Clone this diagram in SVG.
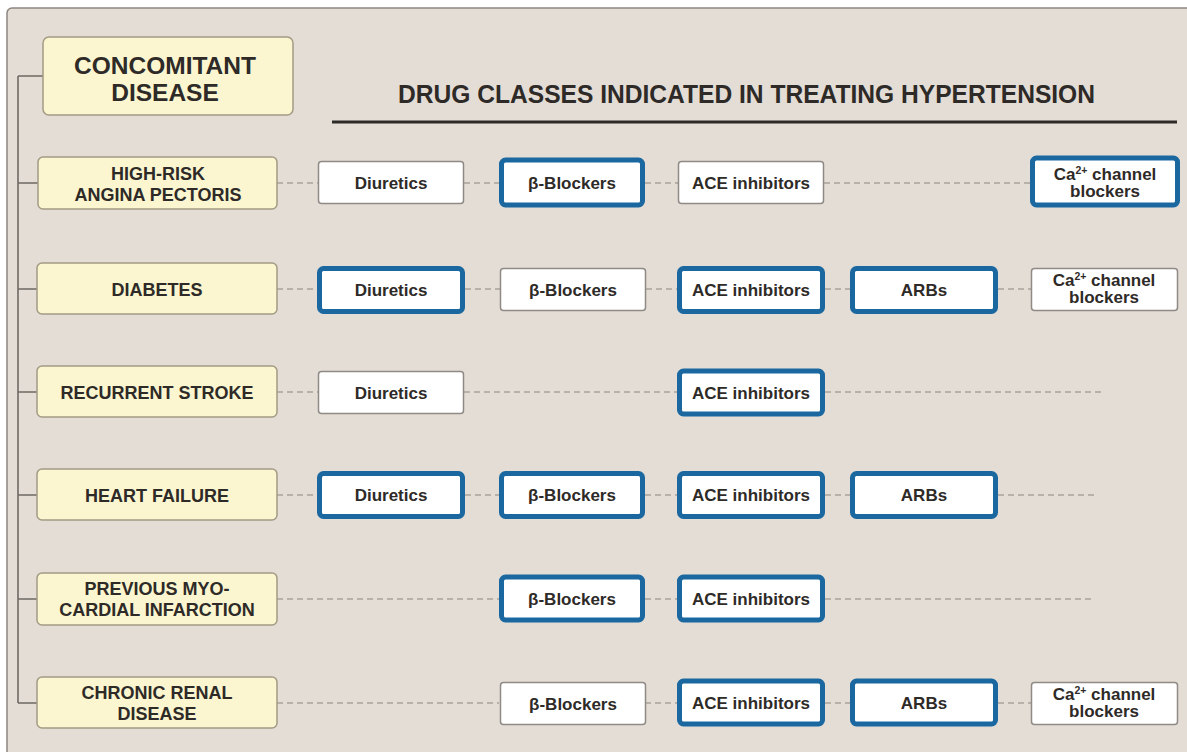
<svg xmlns="http://www.w3.org/2000/svg" width="1187" height="752" viewBox="0 0 1187 752">
<style>
.bg{fill:#e3ddd6;stroke:#8d8782;stroke-width:1.5}
.dis rect{fill:#fbf6d0;stroke:#a39b84;stroke-width:1.5}
.dt{font-family:"Liberation Sans",Arial,sans-serif;font-weight:bold;font-size:18px;fill:#2e2a27;text-anchor:middle}
.ht{font-family:"Liberation Sans",Arial,sans-serif;font-weight:bold;font-size:24.5px;fill:#2e2a27;text-anchor:middle}
.title{font-family:"Liberation Sans",Arial,sans-serif;font-weight:bold;font-size:25px;fill:#2e2a27}
.plain rect{fill:#ffffff;stroke:#8f8a85;stroke-width:1.5}
.hl rect{fill:#ffffff;stroke:#1b68a0;stroke-width:5}
.drug text{font-family:"Liberation Sans",Arial,sans-serif;font-weight:bold;font-size:17px;fill:#2e2a27;text-anchor:middle}
.tree{stroke:#6e6863;stroke-width:1.6;fill:none}
.dash{stroke:#a8a29b;stroke-width:1.4;stroke-dasharray:6 4;fill:none}
</style>
<rect width="1187" height="752" fill="#ffffff"/>
<rect class="bg" x="7" y="8" width="1200" height="760" rx="5"/>

<g id="connectors">
<path class="tree" d="M18 76V703M18 76H43M18 183H38M18 289H37M18 392H37M18 495H37M18 599H37M18 703H37"/>
<path class="dash" d="M277 183H318M464 183H499M645 183H678M824 183H1030"/>
<path class="dash" d="M277 289H317M465 289H500M646 289H677M825 289H850M998 289H1031"/>
<path class="dash" d="M277 392H318M464 392H677M825 392H1105"/>
<path class="dash" d="M277 495H317M465 495H499M645 495H677M825 495H850M998 495H1095"/>
<path class="dash" d="M277 599H499M645 599H677M825 599H1095"/>
<path class="dash" d="M277 703H499M645 703H677M825 703H850M998 703H1031"/>
</g>

<g id="title">
<text class="title" x="398" y="103" textLength="697" lengthAdjust="spacingAndGlyphs">DRUG CLASSES INDICATED IN TREATING HYPERTENSION</text>
<line x1="332" y1="122" x2="1177" y2="122" stroke="#2e2a27" stroke-width="3"/>
</g>

<g id="header" class="dis">
<rect x="43" y="37" width="250" height="78" rx="6"/>
<text class="ht" x="165" y="74">CONCOMITANT</text>
<text class="ht" x="165" y="101">DISEASE</text>
</g>

<g id="d1" class="dis"><rect x="38" y="157" width="239" height="52" rx="5"/>
<text class="dt" x="158" y="180">HIGH-RISK</text><text class="dt" x="158" y="201">ANGINA PECTORIS</text></g>
<g id="d2" class="dis"><rect x="37" y="263" width="240" height="51" rx="5"/>
<text class="dt" x="157" y="296">DIABETES</text></g>
<g id="d3" class="dis"><rect x="37" y="366" width="240" height="51" rx="5"/>
<text class="dt" x="157" y="399">RECURRENT STROKE</text></g>
<g id="d4" class="dis"><rect x="37" y="469" width="240" height="51" rx="5"/>
<text class="dt" x="157" y="502">HEART FAILURE</text></g>
<g id="d5" class="dis"><rect x="37" y="573" width="240" height="52" rx="5"/>
<text class="dt" x="157" y="595">PREVIOUS MYO-</text><text class="dt" x="157" y="616">CARDIAL INFARCTION</text></g>
<g id="d6" class="dis"><rect x="37" y="677" width="240" height="51" rx="5"/>
<text class="dt" x="157" y="699">CHRONIC RENAL</text><text class="dt" x="157" y="720">DISEASE</text></g>

<!-- Row 1 -->
<g id="r1-diu" class="drug plain"><rect x="318.5" y="161.5" width="145" height="42" rx="3"/><text x="391" y="189">Diuretics</text></g>
<g id="r1-beta" class="drug hl"><rect x="501.5" y="160" width="141" height="45" rx="4"/><text x="572" y="189">β-Blockers</text></g>
<g id="r1-ace" class="drug plain"><rect x="678.5" y="161.5" width="145" height="42" rx="3"/><text x="751" y="189">ACE inhibitors</text></g>
<g id="r1-ca" class="drug hl"><rect x="1032.5" y="158" width="145" height="47" rx="4"/><text x="1105" y="180">Ca<tspan font-size="10.5" dy="-6">2+</tspan><tspan dy="6"> channel</tspan></text><text x="1105" y="197">blockers</text></g>

<!-- Row 2 -->
<g id="r2-diu" class="drug hl"><rect x="319.5" y="268.5" width="143" height="43" rx="4"/><text x="391" y="296">Diuretics</text></g>
<g id="r2-beta" class="drug plain"><rect x="500.5" y="268.5" width="145" height="42" rx="3"/><text x="573" y="296">β-Blockers</text></g>
<g id="r2-ace" class="drug hl"><rect x="679.5" y="268.5" width="143" height="43" rx="4"/><text x="751" y="296">ACE inhibitors</text></g>
<g id="r2-arb" class="drug hl"><rect x="852.5" y="268.5" width="143" height="43" rx="4"/><text x="924" y="296">ARBs</text></g>
<g id="r2-ca" class="drug plain"><rect x="1031.5" y="268.5" width="146" height="42" rx="3"/><text x="1104" y="286">Ca<tspan font-size="10.5" dy="-6">2+</tspan><tspan dy="6"> channel</tspan></text><text x="1104" y="303">blockers</text></g>

<!-- Row 3 -->
<g id="r3-diu" class="drug plain"><rect x="318.5" y="371.5" width="145" height="42" rx="3"/><text x="391" y="399">Diuretics</text></g>
<g id="r3-ace" class="drug hl"><rect x="679.5" y="371" width="143" height="43" rx="4"/><text x="751" y="399">ACE inhibitors</text></g>

<!-- Row 4 -->
<g id="r4-diu" class="drug hl"><rect x="319.5" y="473.5" width="143" height="43" rx="4"/><text x="391" y="501">Diuretics</text></g>
<g id="r4-beta" class="drug hl"><rect x="501.5" y="473.5" width="141" height="43" rx="4"/><text x="572" y="501">β-Blockers</text></g>
<g id="r4-ace" class="drug hl"><rect x="679.5" y="473.5" width="143" height="43" rx="4"/><text x="751" y="501">ACE inhibitors</text></g>
<g id="r4-arb" class="drug hl"><rect x="852.5" y="473.5" width="143" height="43" rx="4"/><text x="924" y="501">ARBs</text></g>

<!-- Row 5 -->
<g id="r5-beta" class="drug hl"><rect x="501.5" y="577" width="141" height="43" rx="4"/><text x="572" y="605">β-Blockers</text></g>
<g id="r5-ace" class="drug hl"><rect x="679.5" y="577" width="143" height="43" rx="4"/><text x="751" y="605">ACE inhibitors</text></g>

<!-- Row 6 -->
<g id="r6-beta" class="drug plain"><rect x="500.5" y="682.5" width="145" height="42" rx="3"/><text x="573" y="710">β-Blockers</text></g>
<g id="r6-ace" class="drug hl"><rect x="679.5" y="681" width="143" height="43" rx="4"/><text x="751" y="709">ACE inhibitors</text></g>
<g id="r6-arb" class="drug hl"><rect x="852.5" y="681" width="143" height="43" rx="4"/><text x="924" y="709">ARBs</text></g>
<g id="r6-ca" class="drug plain"><rect x="1031.5" y="682.5" width="146" height="42" rx="3"/><text x="1104" y="700">Ca<tspan font-size="10.5" dy="-6">2+</tspan><tspan dy="6"> channel</tspan></text><text x="1104" y="717">blockers</text></g>
</svg>
